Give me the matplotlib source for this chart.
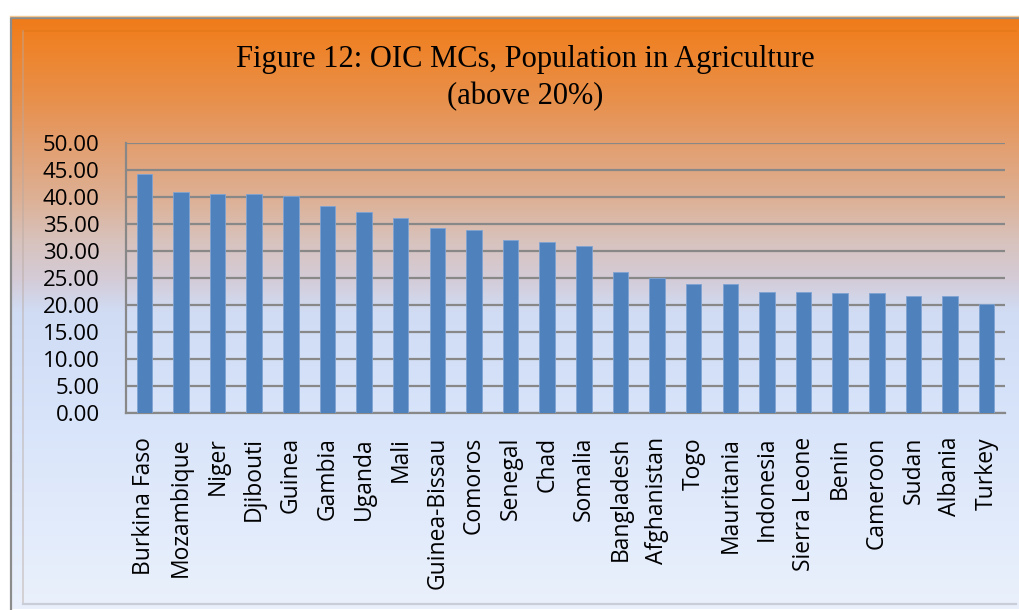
import numpy as np
import matplotlib
matplotlib.use("Agg")
import matplotlib.pyplot as plt
from matplotlib.colors import to_rgb

countries = ["Burkina Faso", "Mozambique", "Niger", "Djibouti", "Guinea", "Gambia",
             "Uganda", "Mali", "Guinea-Bissau", "Comoros", "Senegal", "Chad",
             "Somalia", "Bangladesh", "Afghanistan", "Togo", "Mauritania",
             "Indonesia", "Sierra Leone", "Benin", "Cameroon", "Sudan",
             "Albania", "Turkey"]
share = [44.3, 41.0, 40.6, 40.6, 40.2, 38.4, 37.3, 36.2, 34.3, 33.9, 32.1, 31.7,
         31.0, 26.2, 25.1, 24.0, 24.0, 22.5, 22.5, 22.2, 22.2, 21.8, 21.8, 20.3]
y_ticks = [0, 5, 10, 15, 20, 25, 30, 35, 40, 45, 50]

W, H = 1019, 610
fig = plt.figure(figsize=(W / 100, H / 100), dpi=100)
fig.patch.set_facecolor("white")

# Background panel with vertical orange-to-blue gradient and bevelled frame
bg = fig.add_axes([0, 0, 1, 1], zorder=0)
bg.set_xlim(0, W)
bg.set_ylim(H, 0)
bg.axis("off")
stops = [(17, "#F07A18"), (40, "#EF8226"), (100, "#E8904C"), (143, "#E39E6E"),
         (200, "#DDB196"), (240, "#D8C2BC"), (280, "#D4CCD8"), (312, "#D0DCF4"),
         (420, "#D8E4FA"), (609, "#EAF1FC")]
ys = np.arange(17, 610)
sy = [s[0] for s in stops]
cols = np.array([to_rgb(s[1]) for s in stops])
grad = np.stack([np.interp(ys, sy, cols[:, k]) for k in range(3)], axis=-1)
grad = np.repeat(grad[:, None, :], 2, axis=1)
bg.imshow(grad, extent=(11, W, 609, 17), aspect="auto", interpolation="bilinear")
bg.plot([11.5, 11.5, W], [609, 17.5, 17.5], color="#8C8C8C", lw=1.6)
bg.plot([10, W], [16, 16], color="#F4C890", lw=1.0)
bg.plot([23.5, W - 3], [30.5, 30.5], color="#E07818", lw=1.2, alpha=0.6)
bg.plot([23.5, 23.5], [30.5, 603], color="#B8A8A0", lw=1.2, alpha=0.5)
bg.plot([23.5, W - 3], [603.5, 603.5], color="#C8CDD8", lw=1.6)

# Chart area
ax = fig.add_axes([126 / W, 1 - 413.3 / H, (1005 - 126) / W, (413.3 - 143.3) / H], zorder=2)
ax.patch.set_alpha(0)
x = np.arange(len(countries))
ax.bar(x, share, width=0.42, color="#4F81BD", edgecolor="#7FA3D3", linewidth=0.6, zorder=3)
ax.set_xlim(-0.5, len(countries) - 0.5)
ax.set_ylim(0, 50)
ax.set_yticks(y_ticks)
ax.set_yticklabels([f"{v:.2f}" for v in y_ticks], fontfamily="Open Sans", fontsize=16)
ax.set_xticks(x)
ax.set_xticklabels(countries, rotation=90, fontfamily="Open Sans", fontsize=16.5,
                   va="top", ha="center")
ax.tick_params(axis="y", length=0, pad=19)
ax.tick_params(axis="x", length=0, pad=17)
ax.grid(axis="y", color="#888888", linewidth=1.6, zorder=1)
for side in ["top", "right"]:
    ax.spines[side].set_visible(False)
for side in ["left", "bottom"]:
    ax.spines[side].set_color("#888888")
    ax.spines[side].set_linewidth(1.6)

fig.text(525 / W, 1 - 59 / H, "Figure 12: OIC MCs, Population in Agriculture",
         fontfamily="Liberation Serif", fontsize=22, ha="center", va="center")
fig.text(525 / W, 1 - 97 / H, "(above 20%)",
         fontfamily="Liberation Serif", fontsize=22, ha="center", va="center")

fig.savefig("out.png", dpi=100)
